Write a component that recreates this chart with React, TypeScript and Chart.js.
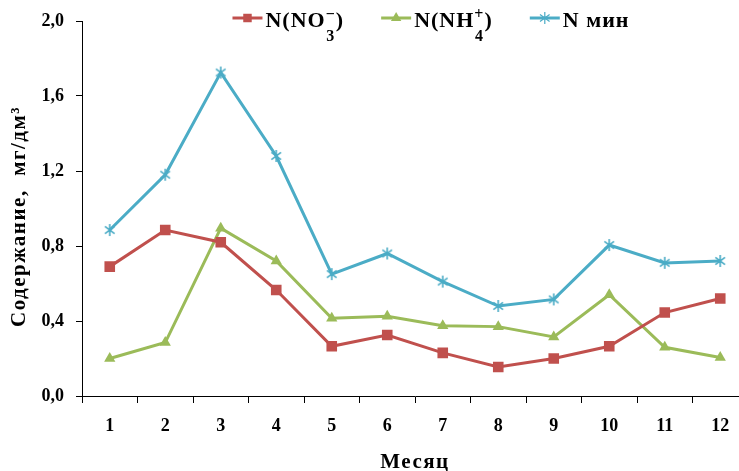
import React, { useEffect, useRef } from "react";
import { Chart, registerables } from "chart.js";

Chart.register(...registerables);

const months = ["1", "2", "3", "4", "5", "6", "7", "8", "9", "10", "11", "12"];
const no3 = [0.69, 0.885, 0.82, 0.565, 0.265, 0.325, 0.23, 0.155, 0.2, 0.265, 0.445, 0.52];
const nh4 = [0.2, 0.285, 0.895, 0.72, 0.415, 0.425, 0.375, 0.37, 0.315, 0.54, 0.26, 0.205];
const nmin = [0.885, 1.18, 1.725, 1.28, 0.65, 0.76, 0.61, 0.48, 0.515, 0.805, 0.71, 0.72];
const yMin = 0;
const yMax = 2.0;
const yStep = 0.4;
const yTitle = "Содержание,  мг/дм³";
const xTitle = "Месяц";
const legendLabels = [
  { base: "N(NO", sup: "−", sub: "3", tail: ")" },
  { base: "N(NH", sup: "+", sub: "4", tail: ")" },
  { base: "N мин", sup: "", sub: "", tail: "" },
];

const RED = "#C0504D";
const GREEN = "#9BBB59";
const BLUE = "#4BACC6";
const FONT = "'Liberation Serif', 'Times New Roman', serif";

function makeStar(r: number, color: string, lw: number) {
  const size = Math.ceil(2 * r + 4);
  const c = document.createElement("canvas");
  c.width = size;
  c.height = size;
  const g = c.getContext("2d")!;
  const m = size / 2;
  g.strokeStyle = color;
  g.lineWidth = lw;
  g.beginPath();
  g.moveTo(m, m - r);
  g.lineTo(m, m + r);
  const dx = r * 0.8;
  const dy = r * 0.6;
  g.moveTo(m - dx, m - dy);
  g.lineTo(m + dx, m + dy);
  g.moveTo(m - dx, m + dy);
  g.lineTo(m + dx, m - dy);
  g.stroke();
  return c;
}

function drawMarker(ctx: CanvasRenderingContext2D, kind: string, x: number, y: number, r: number, color: string) {
  ctx.save();
  ctx.fillStyle = color;
  ctx.strokeStyle = color;
  ctx.lineWidth = 1.2;
  ctx.beginPath();
  if (kind === "rect") {
    const s = Math.SQRT1_2 * r;
    ctx.rect(x - s, y - s, 2 * s, 2 * s);
    ctx.fill();
  } else if (kind === "triangle") {
    ctx.moveTo(x, y - r);
    ctx.lineTo(x + r * 0.866, y + r * 0.5);
    ctx.lineTo(x - r * 0.866, y + r * 0.5);
    ctx.closePath();
    ctx.fill();
  } else {
    ctx.moveTo(x, y - r);
    ctx.lineTo(x, y + r);
    ctx.moveTo(x - r * 0.8, y - r * 0.6);
    ctx.lineTo(x + r * 0.8, y + r * 0.6);
    ctx.moveTo(x - r * 0.8, y + r * 0.6);
    ctx.lineTo(x + r * 0.8, y - r * 0.6);
    ctx.stroke();
  }
  ctx.restore();
}

const markerKinds = ["rect", "triangle", "star"];

const textPlugin = {
  id: "customText",
  afterDraw(chart: any) {
    const ctx = chart.ctx as CanvasRenderingContext2D;
    const area = chart.chartArea;
    const datasets = chart.data.datasets;
    ctx.save();
    ctx.fillStyle = "#000";

    // Y axis title
    ctx.save();
    (ctx as any).letterSpacing = "1.5px";
    ctx.font = `bold 21px ${FONT}`;
    ctx.textAlign = "center";
    ctx.textBaseline = "middle";
    ctx.translate(20, (area.top + area.bottom) / 2 + 8);
    ctx.rotate(-Math.PI / 2);
    ctx.fillText(yTitle, 0, 0);
    ctx.restore();

    // X axis title
    ctx.save();
    (ctx as any).letterSpacing = "1.5px";
    ctx.font = `bold 21px ${FONT}`;
    ctx.textAlign = "center";
    ctx.textBaseline = "alphabetic";
    ctx.fillText(xTitle, (area.left + area.right) / 2, 468);
    ctx.restore();

    // Legend
    (ctx as any).letterSpacing = "1px";
    const mainFont = `bold 22px ${FONT}`;
    const smallFont = `bold 16px ${FONT}`;
    const markerLen = 30;
    const markerGap = 3;
    const itemGap = 37;
    const baseline = 27;
    const markerY = 18;
    const widths = legendLabels.map((l) => {
      ctx.font = mainFont;
      let w = ctx.measureText(l.base).width + ctx.measureText(l.tail).width;
      ctx.font = smallFont;
      w += Math.max(ctx.measureText(l.sup).width, ctx.measureText(l.sub).width);
      return markerLen + markerGap + w;
    });
    const total = widths.reduce((a, b) => a + b, 0) + itemGap * (widths.length - 1);
    let x = 431 - total / 2;
    legendLabels.forEach((l, i) => {
      const color = datasets[i].borderColor;
      ctx.strokeStyle = color;
      ctx.lineWidth = 3;
      ctx.beginPath();
      ctx.moveTo(x, markerY);
      ctx.lineTo(x + markerLen, markerY);
      ctx.stroke();
      drawMarker(ctx, markerKinds[i], x + markerLen / 2, markerY, 6, color);
      let tx = x + markerLen + markerGap;
      ctx.fillStyle = "#000";
      ctx.textBaseline = "alphabetic";
      ctx.textAlign = "left";
      ctx.font = mainFont;
      ctx.fillText(l.base, tx, baseline);
      tx += ctx.measureText(l.base).width;
      ctx.font = smallFont;
      const sw = Math.max(ctx.measureText(l.sup).width, ctx.measureText(l.sub).width);
      if (l.sup) ctx.fillText(l.sup, tx + (sw - ctx.measureText(l.sup).width) / 2, baseline - 8);
      if (l.sub) ctx.fillText(l.sub, tx + (sw - ctx.measureText(l.sub).width) / 2, baseline + 14);
      tx += sw;
      ctx.font = mainFont;
      if (l.tail) ctx.fillText(l.tail, tx, baseline);
      x += widths[i] + itemGap;
    });
    ctx.restore();
  },
};

export default function App() {
  const ref = useRef<HTMLCanvasElement | null>(null);
  useEffect(() => {
    if (!ref.current) return;
    const starImg = makeStar(6, BLUE, 1.6);
    const chart = new Chart(ref.current, {
      type: "line",
      data: {
        labels: months,
        datasets: [
          {
            label: "N(NO3-)",
            data: no3,
            borderColor: RED,
            backgroundColor: RED,
            borderWidth: 3,
            pointStyle: "rect",
            pointRadius: 7.5,
            pointBorderWidth: 0,
            pointBackgroundColor: RED,
            tension: 0,
          },
          {
            label: "N(NH4+)",
            data: nh4,
            borderColor: GREEN,
            backgroundColor: GREEN,
            borderWidth: 3,
            pointStyle: "triangle",
            pointRadius: 6.5,
            pointBorderWidth: 0,
            pointBackgroundColor: GREEN,
            tension: 0,
          },
          {
            label: "N мин",
            data: nmin,
            borderColor: BLUE,
            backgroundColor: BLUE,
            borderWidth: 3,
            pointStyle: starImg,
            pointRadius: 6,
            tension: 0,
          },
        ],
      },
      options: {
        responsive: false,
        animation: false,
        layout: { autoPadding: false, padding: { top: 21, right: 0, bottom: 0, left: 0 } },
        plugins: { legend: { display: false }, tooltip: { enabled: false } },
        scales: {
          x: {
            offset: true,
            grid: { offset: true, drawOnChartArea: false, drawTicks: true, tickLength: 7, color: "#000", lineWidth: 1 },
            border: { display: true, color: "#000", width: 1 },
            ticks: { color: "#000", padding: 13, font: { family: FONT, size: 18, weight: "bold" }, maxRotation: 0 },
            title: { display: false },
            afterFit: (s: any) => {
              s.height = 75;
              s.paddingLeft = 0;
              s.paddingRight = 0;
            },
          },
          y: {
            min: yMin,
            max: yMax,
            grid: { drawOnChartArea: false, drawTicks: true, tickLength: 6, color: "#000", lineWidth: 1 },
            border: { display: true, color: "#000", width: 1 },
            ticks: {
              stepSize: yStep,
              color: "#000",
              padding: 12,
              font: { family: FONT, size: 18, weight: "bold" },
              callback: (v: any) => Number(v).toFixed(1).replace(".", ","),
            },
            title: { display: false },
            afterFit: (s: any) => {
              s.width = 82;
              s.paddingTop = 0;
              s.paddingBottom = 0;
            },
          },
        },
      },
      plugins: [textPlugin],
    } as any);
    return () => chart.destroy();
  }, []);
  return (
    <div style={{ position: "absolute", left: 0, top: 0, width: 739, height: 471, overflow: "hidden", background: "#fff" }}>
      <div style={{ width: 748, height: 471 }}>
        <canvas ref={ref} width={748} height={471} style={{ display: "block" }} />
      </div>
    </div>
  );
}
